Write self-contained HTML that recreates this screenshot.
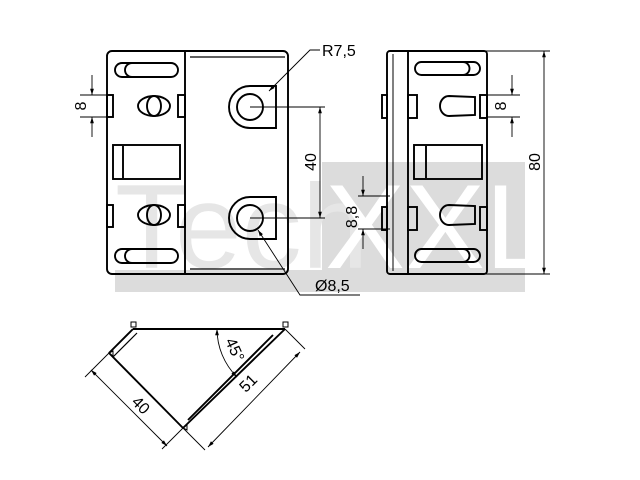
<!DOCTYPE html>
<html><head><style>html,body{margin:0;padding:0;background:#fff}svg{display:block}</style></head><body>
<svg width="640" height="480" viewBox="0 0 640 480" xmlns="http://www.w3.org/2000/svg" font-family="Liberation Sans, sans-serif">
<defs>
<marker id="a" viewBox="0 0 10 10" refX="10" refY="5" markerWidth="7" markerHeight="7" orient="auto-start-reverse"><path d="M0,2 L10,5 L0,8z" fill="#000"/></marker>
</defs>
<rect x="322" y="162" width="203" height="130" fill="#dcdcdc"/>
<rect x="115" y="270" width="410" height="22" fill="#dcdcdc"/>
<text x="115" y="268" font-size="120" fill="#e6e6e6">Tech</text>
<text x="325" y="268" font-size="120" fill="#fff">XXL</text>

<g fill="none" stroke="#000" stroke-width="1.9">
<rect x="107" y="51" width="181" height="223" rx="5"/>
<line x1="185" y1="51" x2="185" y2="274"/>
<line x1="190" y1="57" x2="285" y2="57" stroke-width="1.3"/>
<line x1="190" y1="269" x2="285" y2="269" stroke-width="1.3"/>
<rect x="115" y="63" width="63" height="14" rx="7"/><path d="M132,63 a7,7 0 0 0 0,14"/>
<rect x="115" y="249" width="63" height="14" rx="7"/><path d="M132,249 a7,7 0 0 0 0,14"/>
<rect x="107" y="95" width="6" height="22"/><rect x="178" y="95" width="7" height="22"/>
<rect x="107" y="205" width="6" height="22"/><rect x="178" y="205" width="7" height="22"/>
<ellipse cx="154" cy="106" rx="16" ry="10"/><ellipse cx="154" cy="106" rx="7" ry="10"/>
<ellipse cx="154" cy="215" rx="16" ry="10"/><ellipse cx="154" cy="215" rx="7" ry="10"/>
<rect x="113" y="145" width="67" height="34"/><line x1="123" y1="146" x2="123" y2="178"/>
<path d="M276,86 L250,86 A21,21 0 0 0 250,128 L276,128 Z"/>
<circle cx="250" cy="107" r="13"/>
<path d="M276,197 L250,197 A21,21 0 0 0 250,239 L276,239 Z"/>
<circle cx="250" cy="218" r="13"/>

<rect x="387" y="51" width="100" height="223" rx="3"/>
<line x1="408" y1="51" x2="408" y2="274"/>
<line x1="393" y1="54" x2="393" y2="271" stroke-width="1"/>
<rect x="415" y="62" width="65" height="13" rx="6.5"/><path d="M463,62 a6.5,6.5 0 0 1 0,13"/>
<rect x="415" y="249" width="65" height="13" rx="6.5"/><path d="M463,249 a6.5,6.5 0 0 1 0,13"/>
<rect x="382" y="95" width="5" height="23"/><rect x="408" y="95" width="9" height="23"/><rect x="480" y="95" width="7" height="23"/>
<rect x="382" y="207" width="5" height="23"/><rect x="408" y="207" width="9" height="23"/><rect x="480" y="207" width="7" height="23"/>
<path d="M449,96 L475,97 L475,115 L449,116 A9,10 0 0 1 449,96 Z"/>
<path d="M449,205 L475,206 L475,224 L449,225 A9,10 0 0 1 449,205 Z"/>
<rect x="414" y="145" width="68" height="34"/><line x1="426" y1="146" x2="426" y2="178"/>
</g>

<g fill="none" stroke="#000" stroke-width="0.9">
<line x1="80" y1="95" x2="110" y2="95"/><line x1="80" y1="117" x2="110" y2="117"/>
<line x1="92" y1="75" x2="92" y2="95" marker-end="url(#a)"/><line x1="92" y1="137" x2="92" y2="117" marker-end="url(#a)"/>
<line x1="250" y1="107" x2="325" y2="107"/><line x1="250" y1="218" x2="325" y2="218"/>
<line x1="320" y1="107" x2="320" y2="218" marker-start="url(#a)" marker-end="url(#a)"/>
<line x1="358" y1="196" x2="390" y2="196"/><line x1="358" y1="229" x2="390" y2="229"/>
<line x1="363" y1="176" x2="363" y2="196" marker-end="url(#a)"/><line x1="363" y1="249" x2="363" y2="229" marker-end="url(#a)"/>
<polyline points="320,50 310,50 269,91" marker-end="url(#a)"/>
<polyline points="360,295 300,295 258,230" marker-end="url(#a)"/>
<line x1="440" y1="51" x2="550" y2="51"/><line x1="440" y1="274" x2="550" y2="274"/>
<line x1="544" y1="51" x2="544" y2="274" marker-start="url(#a)" marker-end="url(#a)"/>
<line x1="487" y1="95" x2="520" y2="95"/><line x1="487" y1="117" x2="520" y2="117"/>
<line x1="512" y1="75" x2="512" y2="95" marker-end="url(#a)"/><line x1="512" y1="137" x2="512" y2="117" marker-end="url(#a)"/>
</g>
<g font-size="16" fill="#000">
<text x="86" y="106" transform="rotate(-90 86 106)" text-anchor="middle">8</text>
<text x="316" y="162" transform="rotate(-90 316 162)" text-anchor="middle">40</text>
<text x="357" y="217" transform="rotate(-90 357 217)" text-anchor="middle">8,8</text>
<text x="322" y="56">R7,5</text>
<text x="315" y="291">Ø8,5</text>
<text x="540" y="162" transform="rotate(-90 540 162)" text-anchor="middle">80</text>
<text x="506" y="106" transform="rotate(-90 506 106)" text-anchor="middle">8</text>
</g>

<g fill="none" stroke="#000" stroke-width="1.9">
<line x1="133" y1="329" x2="285" y2="329"/>
<line x1="133" y1="329" x2="109" y2="353"/>
<line x1="137" y1="333" x2="113" y2="357" stroke-width="1.2"/>
<line x1="109" y1="353" x2="183" y2="428"/>
<line x1="183" y1="428" x2="285" y2="329"/>
<line x1="188" y1="420" x2="273" y2="335"/>
<rect x="131" y="322" width="5" height="5" stroke-width="1"/>
<rect x="283" y="322" width="5" height="5" stroke-width="1"/>
<path d="M109,353 l4,-2 v5z" stroke-width="1"/>
<path d="M183,428 l4,-3 v5z" stroke-width="1"/>
</g>
<g fill="none" stroke="#000" stroke-width="0.9">
<line x1="109" y1="353" x2="85" y2="377"/><line x1="183" y1="428" x2="162" y2="449"/>
<line x1="91" y1="370" x2="167" y2="446" marker-start="url(#a)" marker-end="url(#a)"/>
<line x1="183" y1="428" x2="205" y2="450"/><line x1="285" y1="329" x2="305" y2="349"/>
<line x1="208" y1="447" x2="300" y2="352" marker-start="url(#a)" marker-end="url(#a)"/>
<path d="M217,329 A68,68 0 0 0 237,377" marker-start="url(#a)" marker-end="url(#a)"/>
</g>
<g font-size="16" fill="#000">
<text x="137" y="409" transform="rotate(45 137 409)" text-anchor="middle">40</text>
<text x="252" y="387" transform="rotate(-45 252 387)" text-anchor="middle">51</text>
<text x="230" y="352" transform="rotate(65 230 352)" text-anchor="middle">45°</text>
</g>
</svg>
</body></html>
